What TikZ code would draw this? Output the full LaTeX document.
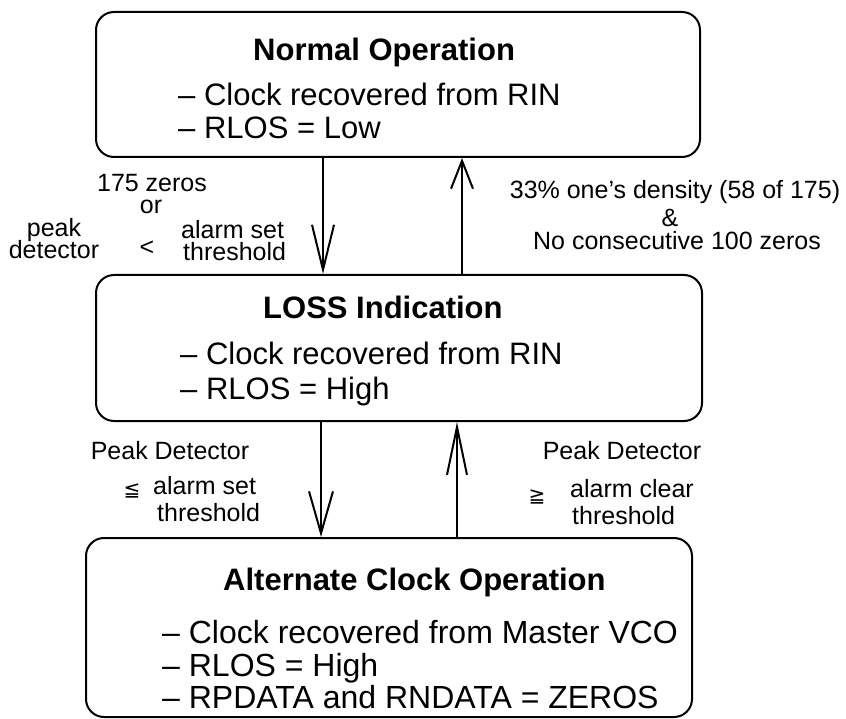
\documentclass[tikz,border=0pt]{standalone}
\usepackage{fontspec}
\setmainfont{Liberation Sans}
\newfontfamily\symfont{DejaVu Sans}
\usetikzlibrary{arrows.meta}
\tikzset{
  statebox/.style={draw, line width=2pt, rounded corners=18pt, inner sep=0pt},
  title/.style={anchor=base west, inner sep=0pt, font=\fontsize{31}{37}\selectfont\bfseries},
  item/.style={anchor=base west, inner sep=0pt, font=\fontsize{31}{37}\selectfont},
  itemb/.style={anchor=base west, inner sep=0pt, font=\fontsize{32}{38}\selectfont},
  lbl/.style={anchor=base, inner sep=0pt, font=\fontsize{25}{30}\selectfont},
  lblw/.style={anchor=base west, inner sep=0pt, font=\fontsize{25}{30}\selectfont},
  rel/.style={anchor=center, inner sep=0pt, font=\fontsize{20}{24}\selectfont\symfont},
  conn/.style={line width=2pt},
}
\begin{document}
\begin{tikzpicture}[x=1pt,y=-1pt]
\useasboundingbox (0,0) rectangle (846,719);
% boxes
\node[statebox, minimum width=604pt, minimum height=145pt] (n1) at (398,84.5) {};
\node[statebox, minimum width=606pt, minimum height=146pt] (n2) at (399,348) {};
\node[statebox, minimum width=606pt, minimum height=179pt] (n3) at (389,627.5) {};
% box texts
\node[title] (t1) at (253,61) {Normal Operation};
\node[item] (t1a) at (178,106) {– Clock recovered from RIN};
\node[item] (t1b) at (178,139) {– RLOS = Low};
\node[title] (t2) at (263,319) {LOSS Indication};
\node[item] (t2a) at (180,364) {– Clock recovered from RIN};
\node[item] (t2b) at (180,399) {– RLOS = High};
\node[title] (t3) at (223,590) {Alternate Clock Operation};
\node[itemb] (t3a) at (162,643) {– Clock recovered from Master VCO};
\node[itemb] (t3b) at (162,676) {– RLOS = High};
\node[itemb] (t3c) at (162,708) {– RPDATA and RNDATA = ZEROS};
% connector columns
\coordinate (c1) at (323,0);
\coordinate (c2) at (462,0);
\coordinate (c3) at (321,0);
\coordinate (c4) at (457,0);
\draw[conn, -{Straight Barb[length=45pt,width=22pt]}] (n1.south -| c1) -- (n2.north -| c1);
\draw[conn, -{Straight Barb[length=28pt,width=22pt]}] (n2.north -| c2) -- (n1.south -| c2);
\draw[conn, -{Straight Barb[length=42pt,width=24pt]}] (n2.south -| c3) -- (n3.north -| c3);
\draw[conn, -{Straight Barb[length=48pt,width=20pt]}] (n3.north -| c4) -- (n2.south -| c4);
% labels, first pair
\node[lbl] (l1) at (152,192) {175 zeros};
\node[lbl] (l2) at (151,214) {or};
\node[lbl] (l3) at (54,237) {peak};
\node[lbl] (l4) at (54,259) {detector};
\node[lbl] (l5) at (147,256) {<};
\node[lblw] (l6) at (181,239) {alarm set};
\node[lblw] (l7) at (183,261) {threshold};
\node[lbl] (r1) at (675,199) {33\% one's density (58 of 175)};
\node[lbl] (r2) at (670,227) {\&};
\node[lbl] (r3) at (677,250) {No consecutive 100 zeros};
% labels, second pair
\node[lbl] (l8) at (170,459) {Peak Detector};
\node[rel] (l9) at (132,491) {≦};
\node[lblw] (l10) at (153,494) {alarm set};
\node[lblw] (l11) at (157,521) {threshold};
\node[lbl] (r4) at (622,459) {Peak Detector};
\node[rel] (r5) at (537,497) {≧};
\node[lblw] (r6) at (570,497) {alarm clear};
\node[lblw] (r7) at (572,524) {threshold};
\end{tikzpicture}
\end{document}
